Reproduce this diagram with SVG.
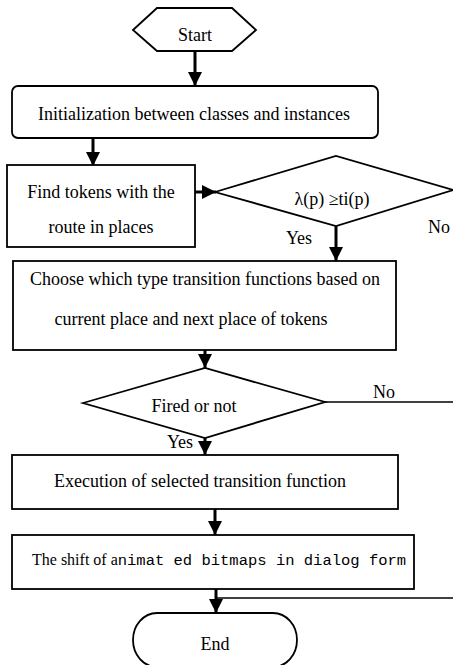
<svg xmlns="http://www.w3.org/2000/svg" width="453" height="665" viewBox="0 0 453 665">
<defs>
<style>
.shape{fill:#fff;stroke:#000;stroke-width:1.8}
.t{font-family:"Liberation Serif","Times New Roman",serif;font-size:18px;fill:#000}
.mono{font-family:"Liberation Mono","Courier New",monospace;font-size:15.5px}
.c{text-anchor:middle}
.arrow{fill:none;stroke:#000;stroke-width:3}
.thin{fill:none;stroke:#000;stroke-width:1.6}
</style>
<marker id="ah" markerUnits="userSpaceOnUse" markerWidth="14" markerHeight="14" refX="14" refY="7" orient="auto">
<path d="M0,0 L14,7 L0,14 z" fill="#000"/>
</marker>
</defs>
<rect width="453" height="665" fill="#fff"/>
<g id="connectors">
<path class="arrow" d="M195,51 V86" marker-end="url(#ah)"/>
<path class="arrow" d="M93,138 V166" marker-end="url(#ah)"/>
<path class="arrow" d="M195,192 H216" marker-end="url(#ah)"/>
<path class="arrow" d="M336,226 V261" marker-end="url(#ah)"/>
<path class="arrow" d="M205,350 V368" marker-end="url(#ah)"/>
<path class="arrow" d="M205,438 V455" marker-end="url(#ah)"/>
<path class="thin" d="M325,402 H453"/>
<path class="arrow" d="M215,509 V535" marker-end="url(#ah)"/>
<path class="arrow" d="M216,589 V613" marker-end="url(#ah)"/>
<path class="thin" d="M453,598 H216"/>
</g>
<g id="start">
<polygon class="shape" points="133,30 157,8 232,8 256,30 232,51 157,51"/>
<text class="t c" x="195" y="41">Start</text>
</g>
<g id="init">
<rect class="shape" x="12" y="86" width="366" height="52" rx="6"/>
<text class="t c" x="194" y="120">Initialization between classes and instances</text>
</g>
<g id="find">
<rect class="shape" x="7" y="165" width="188" height="82"/>
<text class="t c" x="101" y="198">Find tokens with the</text>
<text class="t c" x="101" y="233">route in places</text>
</g>
<g id="decision1">
<polygon class="shape" points="215,192 336,156 453,190 336,226"/>
<text class="t c" x="332" y="205">λ(p) ≥ti(p)</text>
<text class="t c" x="299" y="244">Yes</text>
<text class="t c" x="439" y="233">No</text>
</g>
<g id="choose">
<rect class="shape" x="13" y="261" width="383" height="89"/>
<text class="t c" x="205" y="285">Choose which type transition functions based on</text>
<text class="t c" x="191" y="325">current place and next place of tokens</text>
</g>
<g id="decision2">
<polygon class="shape" points="83,403 205,368 325,402 205,438"/>
<text class="t c" x="194" y="412">Fired or not</text>
<text class="t c" x="180" y="448">Yes</text>
<text class="t c" x="384" y="398">No</text>
</g>
<g id="execute">
<rect class="shape" x="12" y="455" width="386" height="54"/>
<text class="t c" x="200" y="487">Execution of selected transition function</text>
</g>
<g id="shift">
<rect class="shape" x="12" y="535" width="402" height="54"/>
<text class="t" x="32" y="565" style="font-size:16px">The shift of a<tspan class="mono">nimat ed bitmaps in dialog form</tspan></text>
</g>
<g id="end">
<rect class="shape" x="133" y="613" width="164" height="54" rx="24" ry="27"/>
<text class="t c" x="215" y="650">End</text>
</g>
</svg>
